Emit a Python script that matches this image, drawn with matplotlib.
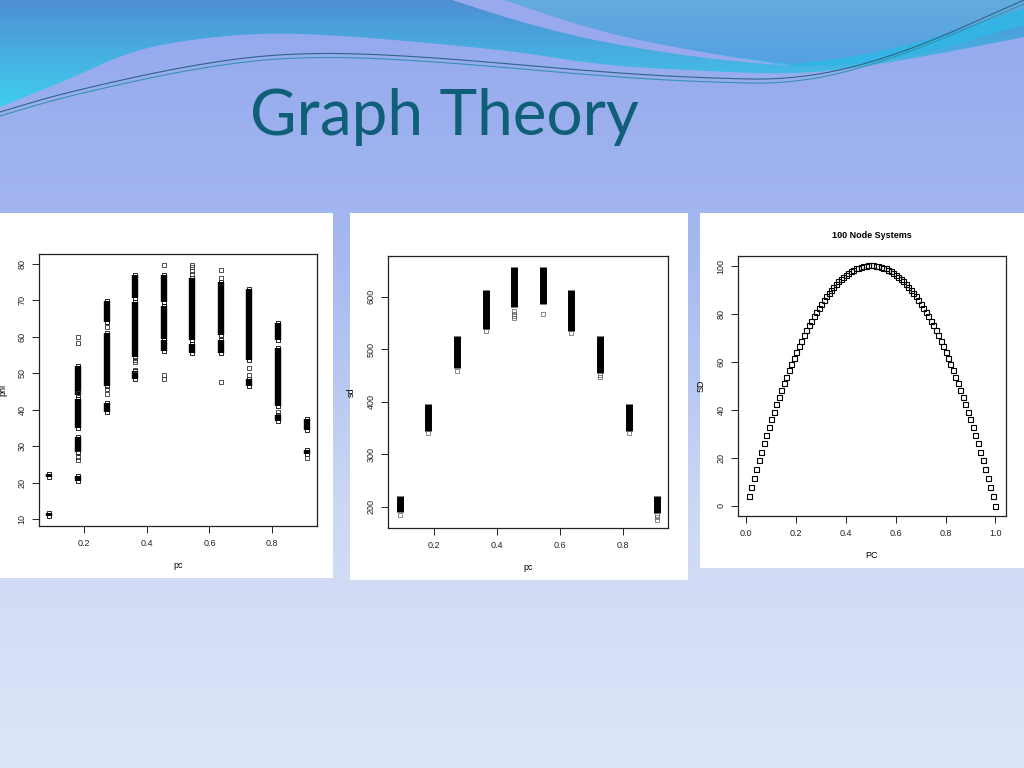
import numpy as np
import matplotlib
matplotlib.use("Agg")
import matplotlib.pyplot as plt
from matplotlib.colors import LinearSegmentedColormap
from matplotlib.patches import Polygon, Rectangle

# ---- data ----
slide_title = "Graph Theory"

# x positions of the ten probability levels (left and middle panels)
pc = [0.091, 0.182, 0.273, 0.364, 0.455, 0.545, 0.636, 0.727, 0.818, 0.909]

# phi: dense bands (lo, hi) per pc level and sparse single points
phi_bands = [
    [(10.8, 11.6), (21.6, 22.3)],
    [(20.5, 21.8), (28.5, 32.5), (35.0, 42.8), (44.0, 52.0)],
    [(39.3, 41.8), (46.5, 61.0), (64.0, 69.8)],
    [(48.3, 50.5), (54.5, 69.5), (70.5, 77.0)],
    [(56.0, 59.0), (59.5, 68.5), (69.5, 77.0)],
    [(55.5, 58.0), (59.0, 76.0)],
    [(55.5, 59.0), (60.5, 75.0)],
    [(46.5, 48.5), (53.5, 73.0)],
    [(37.0, 38.5), (41.0, 57.0), (59.0, 63.8)],
    [(27.8, 29.0), (34.5, 37.5)],
]
phi_points = [
    [],
    [26.3, 27.0, 28.0, 44.5, 58.3, 60.0],
    [44.3, 45.8, 62.7],
    [51.0, 53.0, 53.6],
    [48.5, 49.5, 79.6],
    [77.2, 78.0, 79.0, 79.8],
    [47.5, 76.0, 78.3],
    [49.5, 51.5],
    [39.5],
    [26.8],
]

# sd: dense bands and sparse points
sd_bands = [
    [(190, 220)],
    [(345, 395)],
    [(465, 525)],
    [(538, 612)],
    [(580, 656)],
    [(585, 657)],
    [(535, 612)],
    [(455, 525)],
    [(345, 395)],
    [(188, 220)],
]
sd_points = [
    [185],
    [340],
    [458],
    [535],
    [560, 563, 567, 572],
    [567],
    [530],
    [447, 450],
    [340],
    [175, 180, 185],
]

# 100 node systems
node_pc = [k / 100 for k in range(1, 101)]
node_sd = [4.0, 7.9, 11.7, 15.4, 19.1, 22.7, 26.2, 29.6, 32.9, 36.2,
           39.4, 42.5, 45.5, 48.4, 51.3, 54.0, 56.7, 59.3, 61.9, 64.3,
           66.7, 69.0, 71.2, 73.3, 75.4, 77.3, 79.2, 81.0, 82.8, 84.4,
           86.0, 87.5, 88.9, 90.2, 91.5, 92.6, 93.7, 94.7, 95.6, 96.5,
           97.2, 97.9, 98.5, 99.1, 99.5, 99.9, 100.1, 100.3, 100.5, 100.5,
           100.5, 100.3, 100.1, 99.9, 99.5, 99.1, 98.5, 97.9, 97.2, 96.5,
           95.6, 94.7, 93.7, 92.6, 91.5, 90.2, 88.9, 87.5, 86.0, 84.4,
           82.8, 81.0, 79.2, 77.3, 75.4, 73.3, 71.2, 69.0, 66.7, 64.3,
           61.9, 59.3, 56.7, 54.0, 51.3, 48.4, 45.5, 42.5, 39.4, 36.2,
           32.9, 29.6, 26.2, 22.7, 19.1, 15.4, 11.7, 7.9, 4.0, 0.0]

plt.rcParams["font.family"] = ["Liberation Sans", "DejaVu Sans"]

W, H = 1024, 768
fig = plt.figure(figsize=(W / 100, H / 100), dpi=100)

# ---- slide background, drawn in pixel coordinates ----
bg = fig.add_axes([0, 0, 1, 1])
bg.set_xlim(0, W)
bg.set_ylim(H, 0)
bg.axis("off")

grad = np.linspace(0, 1, 256).reshape(-1, 1)
bg_cmap = LinearSegmentedColormap.from_list("bg", ["#93a8ee", "#a6b9f0", "#cdd8f4", "#dde5f8"])
bg.imshow(grad, cmap=bg_cmap, extent=[0, W, H, 0], aspect="auto", zorder=0)


def chaikin(pts, rounds=4):
    # corner cutting so the wave outlines look smooth
    pts = np.asarray(pts, dtype=float)
    for _ in range(rounds):
        q = 0.75 * pts[:-1] + 0.25 * pts[1:]
        r = 0.25 * pts[:-1] + 0.75 * pts[1:]
        mid = np.empty((2 * len(q), 2))
        mid[0::2] = q
        mid[1::2] = r
        pts = np.vstack([pts[:1], mid, pts[-1:]])
    return pts


def grad_fill(outline, c_top, c_bot, y0, y1, z):
    poly = Polygon(outline, closed=True, facecolor="none", edgecolor="none")
    bg.add_patch(poly)
    cm = LinearSegmentedColormap.from_list("g", [c_top, c_bot])
    im = bg.imshow(grad, cmap=cm, extent=[0, W, y1, y0], aspect="auto", zorder=z)
    im.set_clip_path(poly)


# left blue/cyan wave
c1 = chaikin([(0, 107), (67, 80), (133, 50), (200, 38), (267, 33), (333, 35), (420, 42),
              (520, 52), (600, 65), (700, 71), (813, 75), (933, 55), (1024, 37)])
grad_fill(np.vstack([[(0, 0)], c1, [(1024, 0)]]), "#4f8fd3", "#3fd0ef", 0, 110, 1)

# lavender stripe cutting through it
s_low = chaikin([(452, 0), (520, 22), (600, 42), (700, 58), (790, 66)])
s_up = chaikin([(790, 66), (700, 52), (600, 32), (505, 0)])
bg.add_patch(Polygon(np.vstack([s_low, s_up]), closed=True, facecolor="#98a9ee",
                     edgecolor="none", zorder=2))

# top-right blue area
c2 = chaikin([(790, 64), (850, 58), (930, 40), (1024, 8)])
tr = np.vstack([chaikin([(505, 0), (600, 32), (700, 52), (790, 64)]), c2[1:], [(1024, 0)]])
grad_fill(tr, "#64abdd", "#55a0e3", 0, 66, 3)
c3 = chaikin([(1024, 25), (930, 52), (850, 66), (790, 66)])
bg.add_patch(Polygon(np.vstack([c2, c3]), closed=True, facecolor="#33b4e4",
                     edgecolor="none", zorder=3))

# thin swoosh lines
for dy, col in [(0, "#2d6688"), (4, "#3592b0")]:
    ln = chaikin([(0, 112 + dy), (67, 92 + dy), (200, 63 + dy), (300, 52 + dy), (420, 56 + dy),
                  (600, 72 + dy), (700, 78 + dy), (800, 80 + dy), (900, 55 + dy / 2),
                  (1024, 0 + dy)])
    bg.plot(ln[:, 0], ln[:, 1], color=col, lw=0.8, zorder=4)

bg.text(250, 135, slide_title, fontsize=46, family="Lato", color="#105f79",
        va="baseline", ha="left", zorder=5)

# white panels behind the plots
for x0, x1, y0, y1 in [(0, 333, 213, 578), (350, 688, 213, 580), (700, 1024, 213, 568)]:
    bg.add_patch(Rectangle((x0, y0), x1 - x0, y1 - y0, facecolor="white",
                           edgecolor="none", zorder=6))


def r_axes(x0, y0, x1, y1):
    ax = fig.add_axes([x0 / W, 1 - y1 / H, (x1 - x0) / W, (y1 - y0) / H])
    ax.set_facecolor("white")
    for sp in ax.spines.values():
        sp.set_linewidth(0.9)
        sp.set_color("#222222")
    ax.tick_params(direction="out", length=5, width=0.7, labelsize=6.5,
                   colors="#222222", pad=4)
    return ax


def finish_y(ax):
    for lab in ax.get_yticklabels():
        lab.set_rotation(90)
        lab.set_va("center")


sq = dict(marker="s", ms=3.2, mfc="none", mew=0.6, ls="none")

# ---- left panel: phi vs pc ----
ax1 = r_axes(39, 254, 317, 526)
for x, bands, pts in zip(pc, phi_bands, phi_points):
    for lo, hi in bands:
        ax1.vlines(x, lo, hi, color="black", lw=4.6, capstyle="butt")
        ax1.plot([x, x], [lo, hi], color="black", **sq)
    ax1.plot([x] * len(pts), pts, color="#333333", **sq)
ax1.set_xlim(0.058, 0.942)
ax1.set_ylim(8.1, 82.7)
ax1.set_xticks([0.2, 0.4, 0.6, 0.8])
ax1.set_yticks([10, 20, 30, 40, 50, 60, 70, 80])
finish_y(ax1)
ax1.set_xlabel("pc", fontsize=6.5, labelpad=10)
ax1.set_ylabel("phi", fontsize=6.5, labelpad=7)

# ---- middle panel: sd vs pc ----
ax2 = r_axes(388, 256, 668, 528)
for x, bands, pts in zip(pc, sd_bands, sd_points):
    for lo, hi in bands:
        ax2.vlines(x, lo, hi, color="black", lw=5.0, capstyle="butt")
    ax2.plot([x] * len(pts), pts, color="#555555", alpha=0.8, **sq)
ax2.set_xlim(0.0535, 0.943)
ax2.set_ylim(160, 677)
ax2.set_xticks([0.2, 0.4, 0.6, 0.8])
ax2.set_yticks([200, 300, 400, 500, 600])
finish_y(ax2)
ax2.set_xlabel("pc", fontsize=6.5, labelpad=10)
ax2.set_ylabel("sd", fontsize=6.5, labelpad=8)

# ---- right panel: 100 node systems ----
ax3 = r_axes(738, 256, 1006, 516)
ax3.plot(node_pc, node_sd, color="black", **dict(sq, ms=3.6, mew=0.8))
ax3.set_xlim(-0.0336, 1.043)
ax3.set_ylim(-4.2, 104.3)
ax3.set_xticks([0.0, 0.2, 0.4, 0.6, 0.8, 1.0])
ax3.set_yticks([0, 20, 40, 60, 80, 100])
finish_y(ax3)
ax3.set_xlabel("PC", fontsize=6.5, labelpad=10)
ax3.set_ylabel("SD", fontsize=6.5, labelpad=8)
ax3.set_title("100 Node Systems", fontsize=6.5, fontweight="bold", pad=13)

fig.savefig("out.png", dpi=100)
